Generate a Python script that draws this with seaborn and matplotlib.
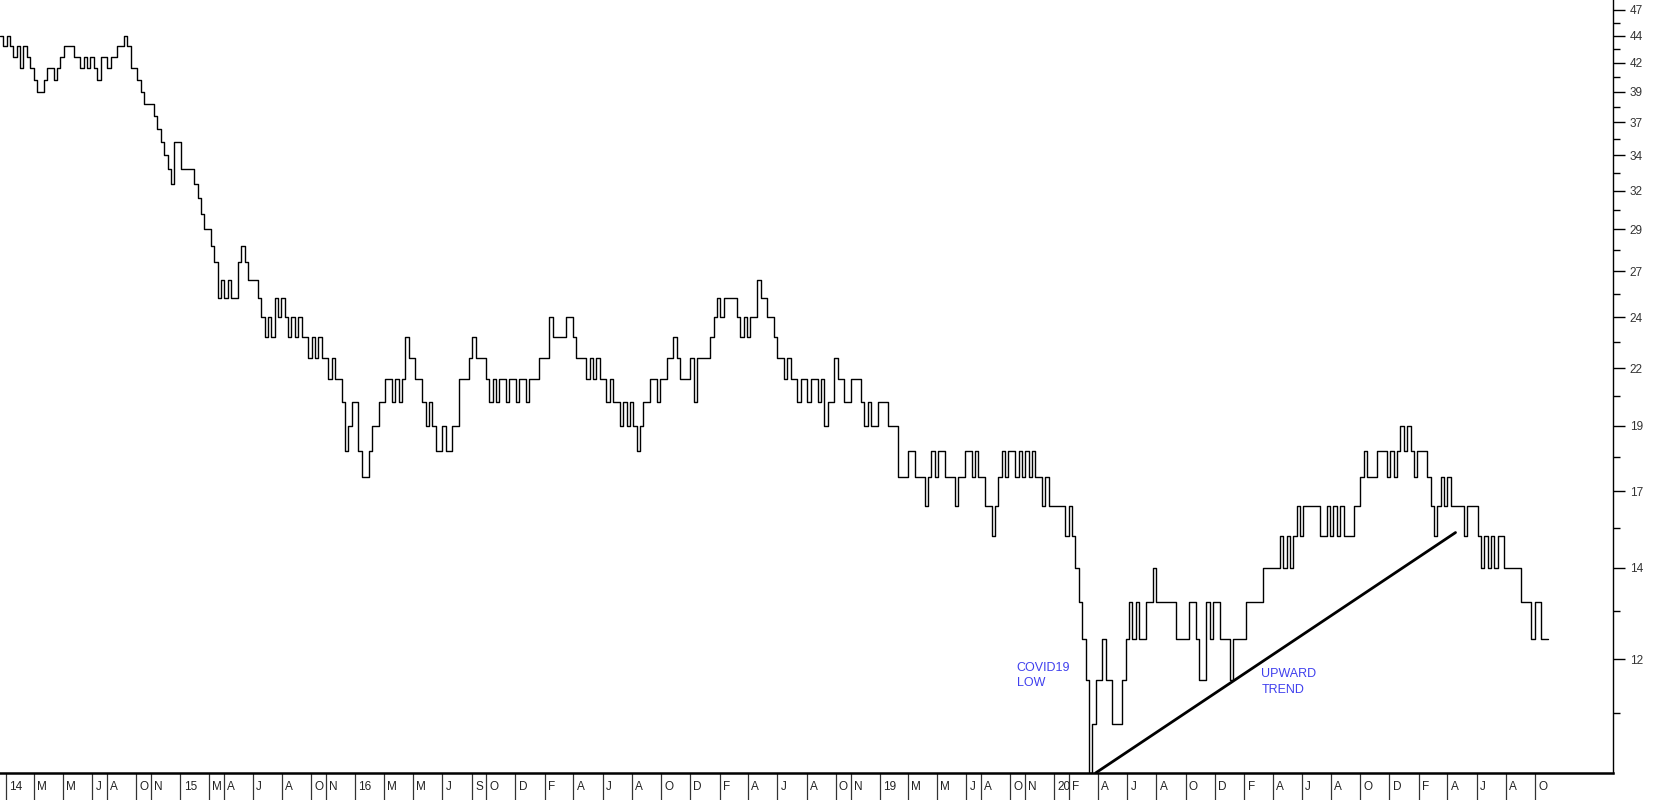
import numpy as np
import pandas as pd
import matplotlib
matplotlib.use("Agg")
import matplotlib.pyplot as plt
import matplotlib.dates as mdates
import matplotlib.ticker as mticker
import seaborn as sns

# ---------------- data ----------------
series_start = "2013-12-20"          # first weekly close
weekly_close = [
    44, 43, 44, 43, 42, 43, 41, 43, 42, 41,
    40, 39, 39, 40, 41, 41, 40, 41, 42, 43,
    43, 43, 42, 42, 41, 42, 41, 42, 41, 40,
    42, 42, 41, 42, 42, 43, 43, 44, 43, 41,
    41, 40, 39, 38, 38, 38, 37, 36, 35, 34,
    33, 32, 35, 35, 33, 33, 33, 33, 32, 31,
    30, 29, 29, 28, 27, 25, 26, 25, 26, 25,
    25, 27, 28, 27, 26, 26, 26, 25, 24, 23,
    24, 23, 25, 24, 25, 24, 23, 24, 23, 24,
    23, 23, 22, 23, 22, 23, 22, 22, 21, 22,
    21, 21, 20, 18, 19, 20, 20, 18, 17, 17,
    18, 19, 19, 20, 20, 21, 21, 20, 21, 20,
    21, 23, 22, 22, 21, 21, 20, 19, 20, 19,
    18, 18, 19, 18, 18, 19, 19, 21, 21, 21,
    22, 23, 22, 22, 22, 21, 20, 21, 20, 21,
    21, 20, 21, 21, 20, 21, 21, 20, 21, 21,
    21, 22, 22, 22, 24, 23, 23, 23, 23, 24,
    24, 23, 22, 22, 22, 21, 22, 21, 22, 21,
    21, 20, 21, 20, 20, 19, 20, 19, 20, 19,
    18, 19, 20, 20, 21, 21, 20, 21, 21, 22,
    22, 23, 22, 21, 21, 21, 22, 20, 22, 22,
    22, 22, 23, 24, 25, 24, 25, 25, 25, 25,
    24, 23, 24, 23, 24, 24, 26, 25, 25, 24,
    24, 23, 22, 22, 21, 22, 21, 21, 20, 21,
    21, 20, 21, 21, 20, 21, 19, 20, 20, 22,
    21, 21, 20, 20, 21, 21, 21, 20, 19, 20,
    19, 19, 20, 20, 20, 19, 19, 19, 17, 17,
    17, 18, 18, 17, 17, 17, 16, 17, 18, 17,
    18, 18, 17, 17, 17, 16, 17, 17, 18, 18,
    17, 18, 17, 17, 16, 16, 15, 16, 17, 18,
    17, 18, 18, 17, 18, 17, 18, 17, 18, 17,
    17, 16, 17, 16, 16, 16, 16, 16, 15, 16,
    15, 14, 13, 12, 11, 9, 10, 11, 11, 12,
    11, 11, 10, 10, 10, 11, 12, 13, 12, 13,
    12, 12, 13, 13, 14, 13, 13, 13, 13, 13,
    13, 12, 12, 12, 12, 13, 13, 12, 11, 11,
    13, 12, 13, 13, 12, 12, 12, 11, 12, 12,
    12, 12, 13, 13, 13, 13, 13, 14, 14, 14,
    14, 14, 15, 14, 15, 14, 15, 16, 15, 16,
    16, 16, 16, 16, 15, 15, 16, 15, 16, 15,
    16, 15, 15, 15, 16, 16, 17, 18, 17, 17,
    17, 18, 18, 18, 17, 18, 17, 18, 19, 18,
    19, 18, 17, 18, 18, 18, 17, 16, 15, 16,
    17, 16, 17, 16, 16, 16, 16, 15, 16, 16,
    16, 15, 14, 15, 14, 15, 14, 15, 15, 14,
    14, 14, 14, 14, 13, 13, 13, 12, 13, 13,
    12, 12, 12,
]

x_tick_months = [
    "2014-01", "2014-03", "2014-05", "2014-07", "2014-08", "2014-10", "2014-11",
    "2015-01", "2015-03", "2015-04", "2015-06", "2015-08", "2015-10", "2015-11",
    "2016-01", "2016-03", "2016-05", "2016-07", "2016-09", "2016-10", "2016-12",
    "2017-02", "2017-04", "2017-06", "2017-08", "2017-10", "2017-12",
    "2018-02", "2018-04", "2018-06", "2018-08", "2018-10", "2018-11",
    "2019-01", "2019-03", "2019-05", "2019-07", "2019-08", "2019-10", "2019-11",
    "2020-01", "2020-02", "2020-04", "2020-06", "2020-08", "2020-10", "2020-12",
    "2021-02", "2021-04", "2021-06", "2021-08", "2021-10", "2021-12",
    "2022-02", "2022-04", "2022-06", "2022-08", "2022-10",
]
x_tick_labels = [
    "14", "M", "M", "J", "A", "O", "N",
    "15", "M", "A", "J", "A", "O", "N",
    "16", "M", "M", "J", "S", "O", "D",
    "F", "A", "J", "A", "O", "D",
    "F", "A", "J", "A", "O", "N",
    "19", "M", "M", "J", "A", "O", "N",
    "20", "F", "A", "J", "A", "O", "D",
    "F", "A", "J", "A", "O", "D",
    "F", "A", "J", "A", "O",
]

y_tick_values = [46.5, 44, 41.5, 39, 36.5, 34, 31.5, 29, 26.5, 24, 21.5, 19, 16.5, 14, 11.5]
y_tick_labels = ["47", "44", "42", "39", "37", "34", "32", "29", "27", "24", "22", "19", "17", "14", "12"]
y_minor_values = [45.25, 42.75, 40.25, 37.75, 35.25, 32.75, 30.25, 27.75,
                  25.25, 22.75, 20.25, 17.75, 15.25, 12.75, 10.25]
y_limits = (9.0, 47.5)
x_limits = ("2013-12-20", "2023-03-13")

trend_dates = ["2020-03-27", "2022-04-18"]
trend_prices = [9.0, 15.1]

note_texts = ["COVID19\nLOW", "UPWARD\nTREND"]
note_dates = ["2019-10-14", "2021-03-08"]
note_prices = [11.43, 11.27]

# ---------------- style ----------------
sns.set_style("white")
plt.rcParams["font.family"] = ["Liberation Sans", "DejaVu Sans"]

dates = pd.date_range(series_start, periods=len(weekly_close), freq="7D")
df = pd.DataFrame({"date": dates, "close": weekly_close})
trend_df = pd.DataFrame({"date": pd.to_datetime(trend_dates), "close": trend_prices})

fig = plt.figure(figsize=(16.65, 8.0), dpi=100)
ax = fig.add_axes([0.0, 27 / 800, 1613 / 1665, 773 / 800])

sns.lineplot(data=df, x="date", y="close", ax=ax, color="black", linewidth=1.0,
             drawstyle="steps-post", estimator=None, legend=False)
sns.lineplot(data=trend_df, x="date", y="close", ax=ax, color="black", linewidth=2.0,
             estimator=None, legend=False)

ax.set_yscale("log")
ax.set_ylim(*y_limits)
ax.set_xlim(mdates.date2num(pd.Timestamp(x_limits[0])), mdates.date2num(pd.Timestamp(x_limits[1])))

ax.yaxis.tick_right()
ax.yaxis.set_major_locator(mticker.FixedLocator(y_tick_values))
ax.yaxis.set_major_formatter(mticker.FixedFormatter(y_tick_labels))
ax.yaxis.set_minor_locator(mticker.FixedLocator(y_minor_values))
ax.yaxis.set_minor_formatter(mticker.NullFormatter())
ax.tick_params(axis="y", which="both", right=True, left=False)
ax.tick_params(axis="y", which="major", direction="out", length=8.5, width=1.0,
               pad=3.5, labelsize=8.5, labelcolor="#333333", color="black")
ax.tick_params(axis="y", which="minor", direction="out", length=5, width=1.0, color="black")

tick_nums = [mdates.date2num(pd.Timestamp(m + "-01")) for m in x_tick_months]
ax.set_xticks(tick_nums)
ax.xaxis.set_minor_locator(mticker.NullLocator())
ax.tick_params(axis="x", which="major", bottom=True, top=False, direction="out",
               length=19.5, width=0.9, color="#333333", labelbottom=False)
for lab, xn in zip(x_tick_labels, tick_nums):
    ax.annotate(lab, xy=(xn, 0), xycoords=("data", "axes fraction"),
                xytext=(2.3, -10), textcoords="offset points",
                ha="left", va="center", fontsize=8.5, color="#222222",
                annotation_clip=False)

for txt, d, p in zip(note_texts, note_dates, note_prices):
    ax.text(mdates.date2num(pd.Timestamp(d)), p, txt, color="#4040ee",
            fontsize=9, ha="left", va="top", linespacing=1.35)

ax.set_xlabel("")
ax.set_ylabel("")
ax.grid(False)
for side in ("left", "top"):
    ax.spines[side].set_visible(False)
ax.spines["right"].set_color("black")
ax.spines["right"].set_linewidth(1.0)
ax.spines["bottom"].set_color("black")
ax.spines["bottom"].set_linewidth(1.8)

fig.savefig("out.png", dpi=100, facecolor="white")
